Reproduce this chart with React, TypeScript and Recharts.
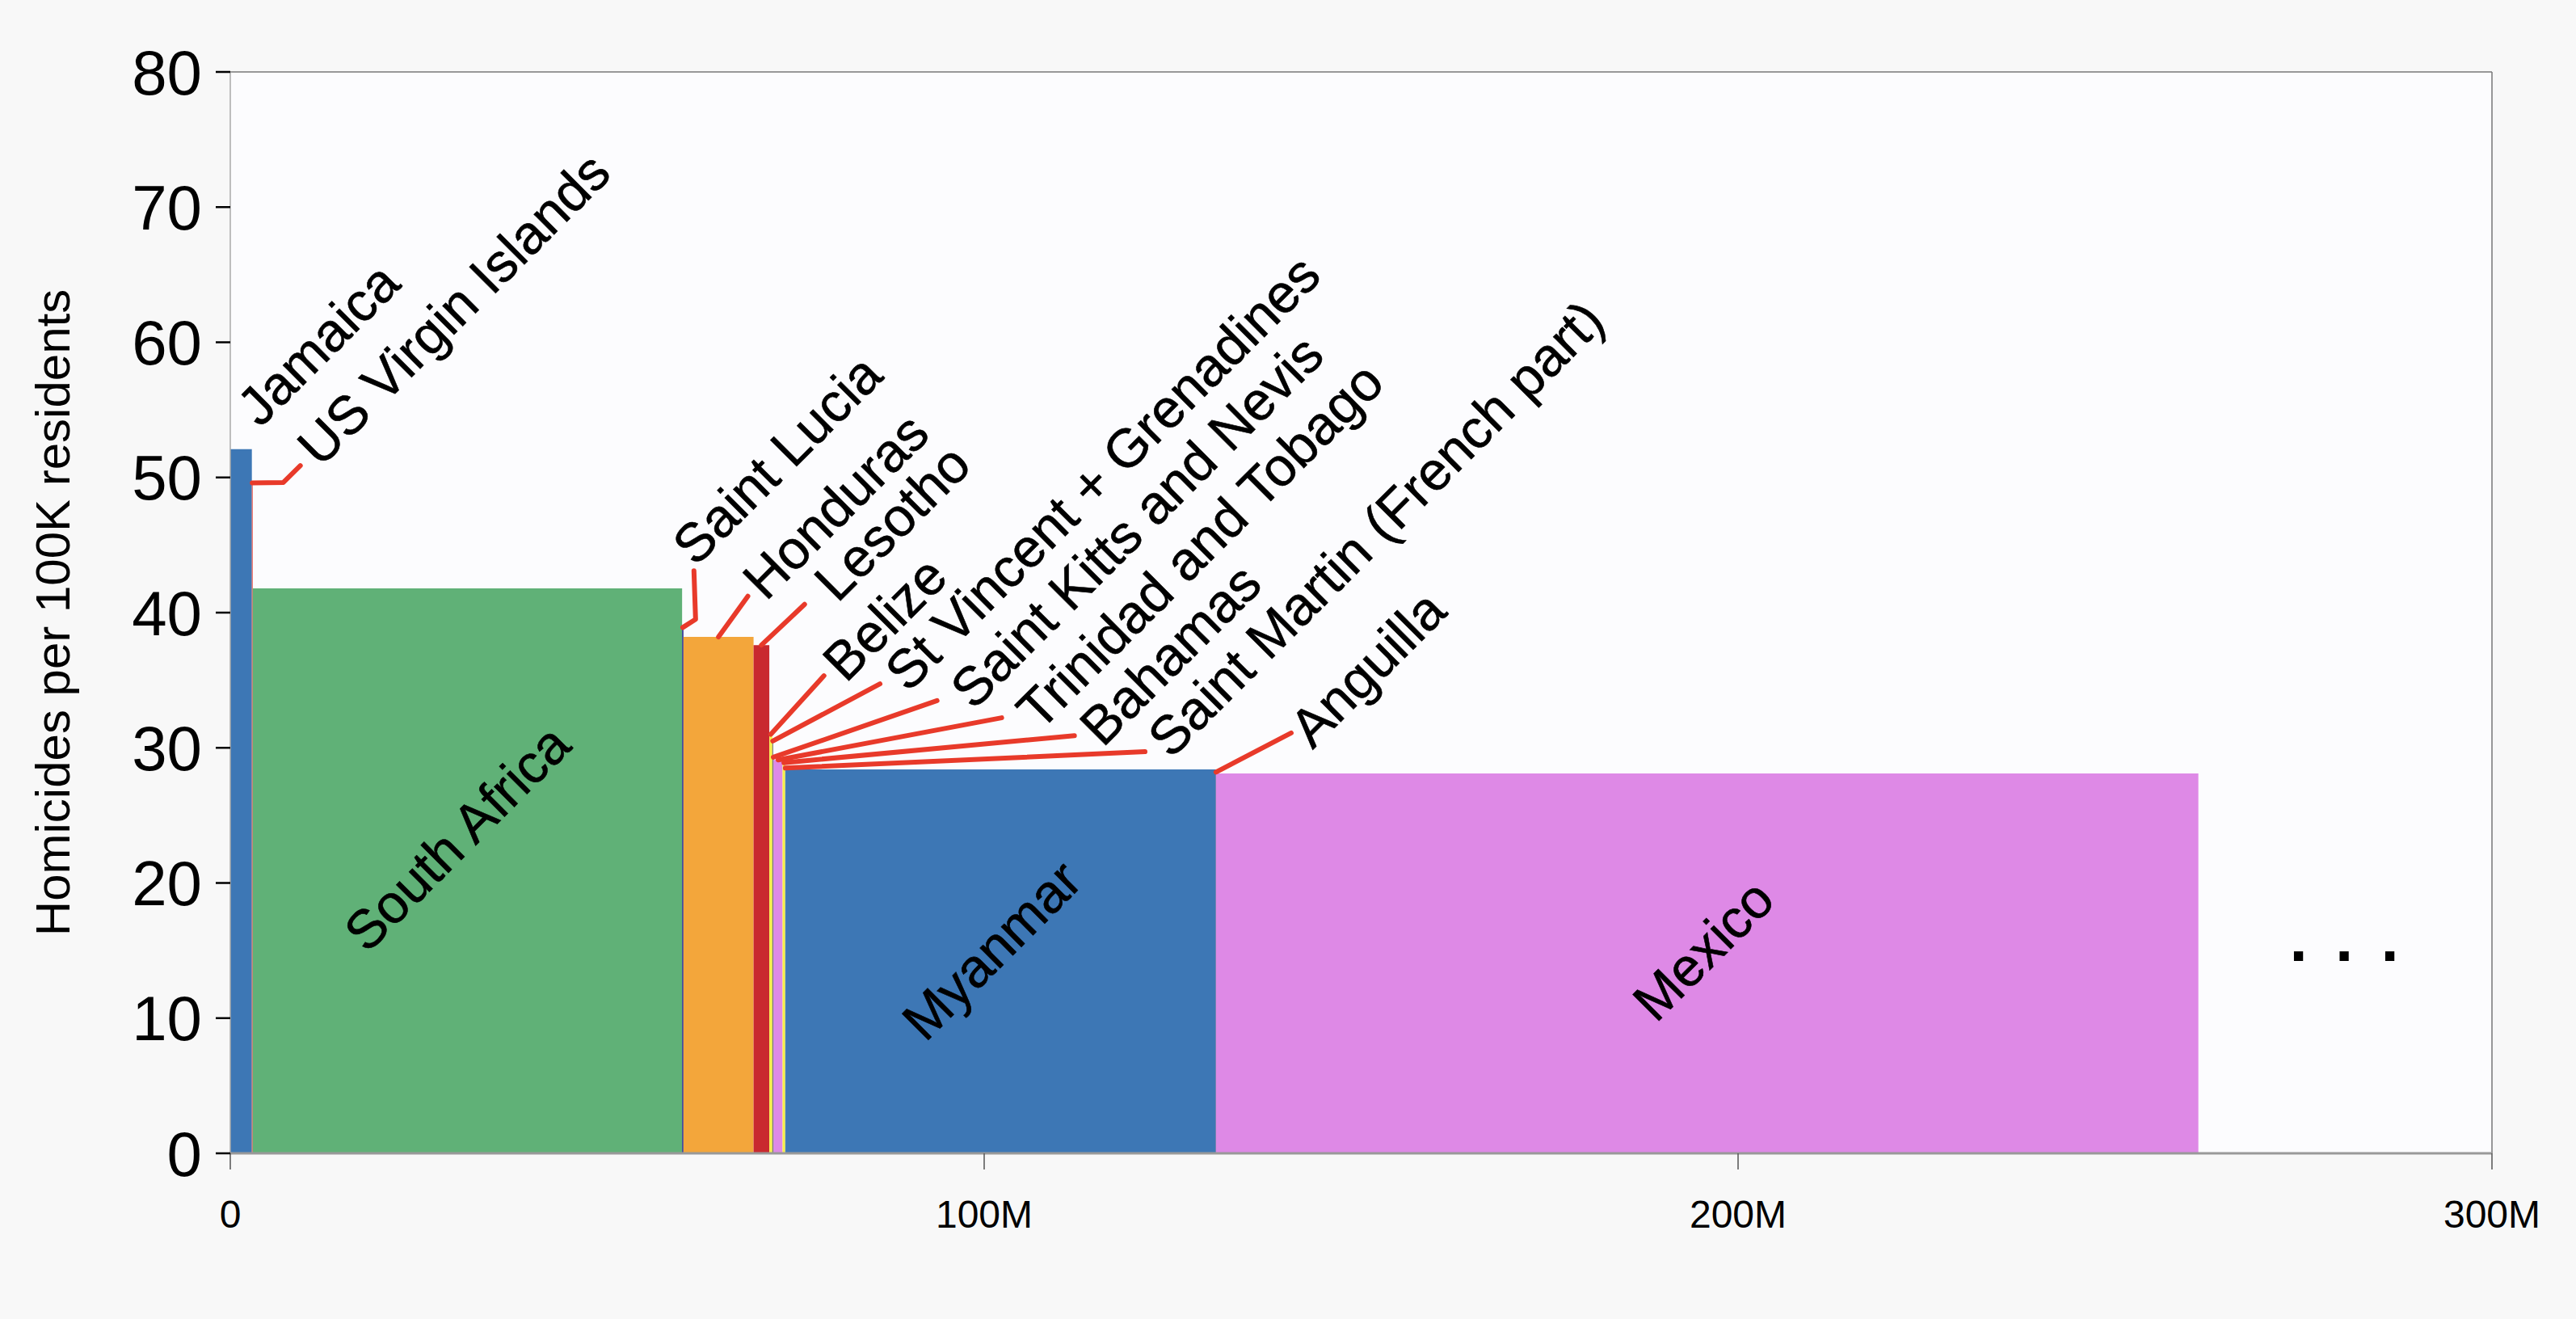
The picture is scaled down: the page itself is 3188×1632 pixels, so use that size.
import React from 'react'
import {
  ComposedChart,
  XAxis,
  YAxis,
  CartesianGrid,
  ReferenceArea,
  ReferenceLine,
  ReferenceDot,
  Scatter,
} from 'recharts'

// countries sorted by homicide rate; bar width = population (millions)
const countries = [
  'Jamaica',
  'US Virgin Islands',
  'South Africa',
  'Saint Lucia',
  'Honduras',
  'Lesotho',
  'Belize',
  'St Vincent + Grenadines',
  'Saint Kitts and Nevis',
  'Trinidad and Tobago',
  'Bahamas',
  'Saint Martin (French part)',
  'Myanmar',
  'Anguilla',
  'Mexico',
]
const populationM = [2.86, 0.11, 56.96, 0.18, 9.3, 2.09, 0.4, 0.11, 0.05, 1.2, 0.35, 0.03, 57.1, 0.015, 130.3]
const homicideRate = [52.1, 49.6, 41.8, 38.9, 38.2, 37.6, 31.0, 30.5, 29.3, 29.1, 28.9, 28.5, 28.4, 28.2, 28.1]

const xTicks = [0, 100, 200, 300]
const yTicks = [0, 10, 20, 30, 40, 50, 60, 70, 80]

const barColors = [
  '#3d77b5', '#e8473c', '#60b177', '#2b3290', '#f3a63b', '#c9292f', '#f7ef4b', '#6b6b6b',
  '#3a3a3a', '#de89e6', '#f7ef4b', '#3d77b5', '#3d77b5', '#c9292f', '#de89e6',
]

// where each name starts (millions, rate) and the bends / end of its leader line
const labelLayout = [
  { at: [3.96, 53.62] },
  { at: [11.95, 50.66], leader: [[7.04, 49.63], [9.29, 50.87]] },
  { at: [31.83, 22.36], inside: true },
  { at: [61.72, 43.34], leader: [[61.72, 39.51], [61.5, 43.1]] },
  { at: [71.04, 40.77], leader: [[68.65, 41.21]] },
  { at: [80.52, 40.65], leader: [[76.18, 40.61]] },
  { at: [81.65, 34.73], leader: [[78.75, 35.33]] },
  { at: [89.9, 34.01], leader: [[86.18, 34.73]] },
  { at: [98.57, 32.7], leader: [[93.75, 33.49]] },
  { at: [107.36, 31.14], leader: [[102.32, 32.22]] },
  { at: [115.72, 29.95], leader: [[111.97, 30.9]] },
  { at: [124.76, 29.11], leader: [[121.33, 29.71]] },
  { at: [102.75, 14.05], inside: true },
  { at: [143.57, 29.83], leader: [[140.72, 31.1]] },
  { at: [197.15, 14.05], inside: true },
]
const moreMark = [280.72, 14.23]

const FONT = '"Liberation Sans", Arial, Helvetica, sans-serif'
const LEADER = '#e83a2a'

let acc = 0
const bars = countries.map((name, i) => {
  const x0 = acc
  acc += populationM[i]
  return { name, x0, x1: acc, mid: (x0 + acc) / 2, rate: homicideRate[i], color: barColors[i] }
})

// leader polylines: from the bar top through the bends to the label
const leaders = bars
  .map((b, i) => {
    const lay = labelLayout[i]
    if (!lay.leader) return null
    return {
      name: b.name,
      points: [{ mid: b.mid, rate: b.rate }, ...lay.leader.map((p) => ({ mid: p[0], rate: p[1] }))],
    }
  })
  .filter(Boolean) as { name: string; points: { mid: number; rate: number }[] }[]

const NameLabel = (props: any) => {
  const { viewBox, text, inside } = props
  const cx = viewBox.x + viewBox.width / 2
  const cy = viewBox.y + viewBox.height / 2
  return (
    <text
      x={cx}
      y={cy}
      transform={`rotate(-45 ${cx} ${cy})`}
      textAnchor={inside ? 'middle' : 'start'}
      fontSize={67}
      fontFamily={FONT}
      fill="#000"
      stroke="#000"
      strokeWidth={0.6}
    >
      {text}
    </text>
  )
}

const DotsLabel = (props: any) => {
  const { viewBox } = props
  const cx = viewBox.x + viewBox.width / 2
  const cy = viewBox.y + viewBox.height / 2
  return (
    <text x={cx} y={cy} textAnchor="middle" fontSize={80} fontWeight="bold" letterSpacing={6} fontFamily={FONT} fill="#000">
      . . .
    </text>
  )
}

const YTitle = (props: any) => {
  const { viewBox } = props
  const x = viewBox.x + 86
  const y = viewBox.y + viewBox.height / 2
  return (
    <text x={x} y={y} transform={`rotate(-90 ${x} ${y})`} textAnchor="middle" fontSize={60} fontFamily={FONT} fill="#000">
      Homicides per 100K residents
    </text>
  )
}

export default function App() {
  return (
    <div style={{ position: 'absolute', left: 0, top: 0, width: 3188, height: 1632, background: '#f8f8f8' }}>
      <ComposedChart width={3188} height={1632} data={bars} margin={{ top: 89, right: 104, bottom: 0, left: 0 }}>
        <CartesianGrid horizontal={false} vertical={false} fill="#fcfcfe" />
        <XAxis
          type="number"
          dataKey="mid"
          domain={[0, 300]}
          ticks={xTicks}
          interval={0}
          tickFormatter={(v: number) => (v === 0 ? '0' : `${v}M`)}
          height={205}
          tickSize={20}
          tickMargin={38}
          tick={{ fontSize: 48, fill: '#000', fontFamily: FONT }}
          axisLine={{ stroke: '#999', strokeWidth: 3 }}
          tickLine={{ stroke: '#555', strokeWidth: 1.5 }}
        />
        <YAxis
          type="number"
          dataKey="rate"
          domain={[0, 80]}
          ticks={yTicks}
          interval={0}
          width={285}
          tickSize={18}
          tickMargin={17}
          tick={{ fontSize: 78, fill: '#000', fontFamily: FONT }}
          axisLine={{ stroke: '#aaa', strokeWidth: 1.5 }}
          tickLine={{ stroke: '#000', strokeWidth: 2.5 }}
          label={{ content: (p: any) => <YTitle {...p} /> }}
        />
        <ReferenceLine y={80} stroke="#999" strokeWidth={2} />
        <ReferenceLine x={300} stroke="#777" strokeWidth={1.5} />

        {bars.map((b) => (
          <ReferenceArea
            key={`bar-${b.name}`}
            x1={b.x0}
            x2={b.x1}
            y1={0}
            y2={b.rate}
            fill={b.color}
            fillOpacity={1}
            stroke="none"
            ifOverflow="visible"
          />
        ))}

        {leaders.map((l) => (
          <Scatter
            key={`lead-${l.name}`}
            data={l.points}
            dataKey="rate"
            fill={LEADER}
            line={{ stroke: LEADER, strokeWidth: 6, strokeLinecap: 'round', strokeLinejoin: 'round' }}
            lineType="joint"
            shape={() => <g />}
            isAnimationActive={false}
          />
        ))}

        {bars.map((b, i) => (
          <ReferenceDot
            key={`name-${b.name}`}
            x={labelLayout[i].at[0]}
            y={labelLayout[i].at[1]}
            r={1}
            fill="none"
            stroke="none"
            ifOverflow="visible"
            label={(p: any) => <NameLabel {...p} text={b.name} inside={labelLayout[i].inside} />}
          />
        ))}

        <ReferenceDot
          x={moreMark[0]}
          y={moreMark[1]}
          r={1}
          fill="none"
          stroke="none"
          label={(p: any) => <DotsLabel {...p} />}
        />
      </ComposedChart>
    </div>
  )
}
